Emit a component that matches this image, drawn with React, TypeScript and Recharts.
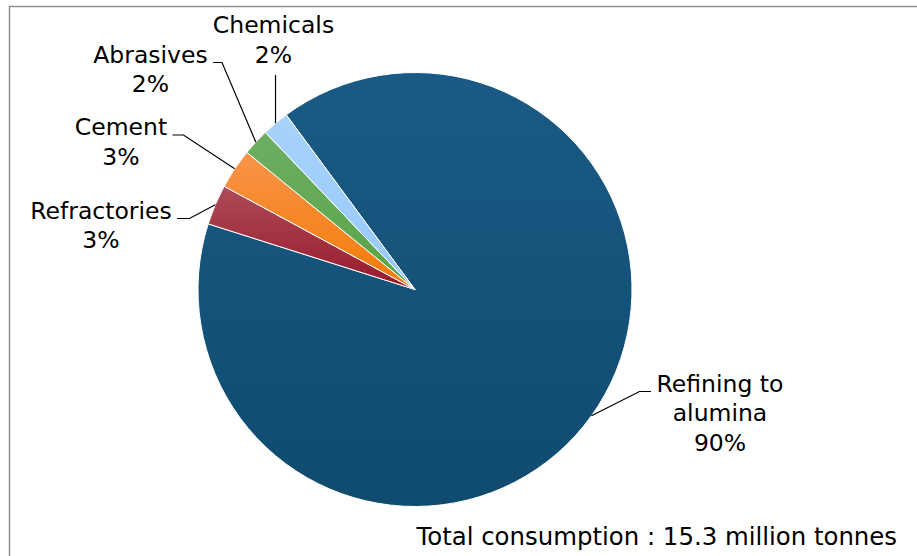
import React from "react";
import { PieChart, Pie, Cell, Customized } from "recharts";

// Uses of bauxite, share of total consumption (%)
const categories = ["Refining to alumina", "Refractories", "Cement", "Abrasives", "Chemicals"];
const shares = [90, 3, 3, 2, 2];
const labelLines = [
  ["Refining to", "alumina", "90%"],
  ["Refractories", "3%"],
  ["Cement", "3%"],
  ["Abrasives", "2%"],
  ["Chemicals", "2%"],
];
const totalNote = "Total consumption : 15.3 million tonnes";

const data = categories.map((name, i) => ({ name, value: shares[i] }));

// Slice fills: [top, bottom] of a soft vertical gradient
const fills: [string, string][] = [
  ["#1a5a84", "#0f4b6f"],
  ["#ad4b58", "#98192b"],
  ["#f8944a", "#f47a05"],
  ["#6eae63", "#58a446"],
  ["#a8d2fb", "#96c9fc"],
];

// Label placement: elbow of the leader line, end of its horizontal tail,
// text centre and first baseline
const labelLayout = [
  { elbow: [639.5, 391.5], tail: 651, tx: 720, ty: 391.5 },
  { elbow: [189.5, 218.5], tail: 177, tx: 101, ty: 218.5 },
  { elbow: [183.5, 135], tail: 172.5, tx: 121, ty: 135 },
  { elbow: [222, 62.5], tail: 213, tx: 150.5, ty: 62.5 },
  { elbow: null, tail: null, tx: 273.5, ty: 33.3, topY: 75 },
] as any[];

const FONT = "Verdana, 'DejaVu Sans', sans-serif";
const RAD = Math.PI / 180;

const renderLabel = (props: any) => {
  const { cx, cy, midAngle, outerRadius, index } = props;
  const sx = cx + outerRadius * Math.cos(-midAngle * RAD);
  const sy = cy + outerRadius * Math.sin(-midAngle * RAD);
  const lay = labelLayout[index];
  let path: string;
  if (lay.elbow) {
    const [ex, ey] = lay.elbow;
    path = `M${sx},${sy}L${ex},${ey}L${lay.tail},${ey}`;
  } else {
    path = `M${sx},${sy}L${sx},${lay.topY}`;
  }
  const lines = labelLines[index];
  return (
    <g key={`lbl-${index}`}>
      <path d={path} stroke="#000" strokeWidth={1.2} fill="none" />
      <text
        x={lay.tx}
        y={lay.ty}
        textAnchor="middle"
        fontFamily={FONT}
        fontSize={23.5}
        fill="#000"
      >
        {lines.map((t, j) => (
          <tspan key={j} x={lay.tx} dy={j === 0 ? 0 : 29.5}>
            {t}
          </tspan>
        ))}
      </text>
    </g>
  );
};

const Frame = () => (
  <g>
    <path d="M9.5,560L9.5,6.5L920,6.5" stroke="#8e8e8e" strokeWidth={1.5} fill="none" />
    <text x={416.5} y={545} fontFamily={FONT} fontSize={24.4} fill="#000">
      {totalNote}
    </text>
  </g>
);

export default function App() {
  return (
    <div style={{ position: "absolute", left: 0, top: 0, width: 917, height: 556, background: "#fff" }}>
      <PieChart width={917} height={556} margin={{ top: 0, right: 0, bottom: 0, left: 0 }}>
        <defs>
          {fills.map(([a, b], i) => (
            <linearGradient key={i} id={`slice-grad-${i}`} x1="0" y1="0" x2="0" y2="1">
              <stop offset="0%" stopColor={a} />
              <stop offset="100%" stopColor={b} />
            </linearGradient>
          ))}
        </defs>
        <Customized component={Frame} />
        <Pie
          data={data}
          dataKey="value"
          nameKey="name"
          cx={415}
          cy={289.5}
          outerRadius={217}
          startAngle={126.4}
          endAngle={126.4 - 360}
          stroke="#ffffff"
          strokeWidth={1}
          label={renderLabel}
          labelLine={false}
          isAnimationActive={false}
        >
          {data.map((d, i) => (
            <Cell key={d.name} fill={`url(#slice-grad-${i})`} />
          ))}
        </Pie>
      </PieChart>
    </div>
  );
}
